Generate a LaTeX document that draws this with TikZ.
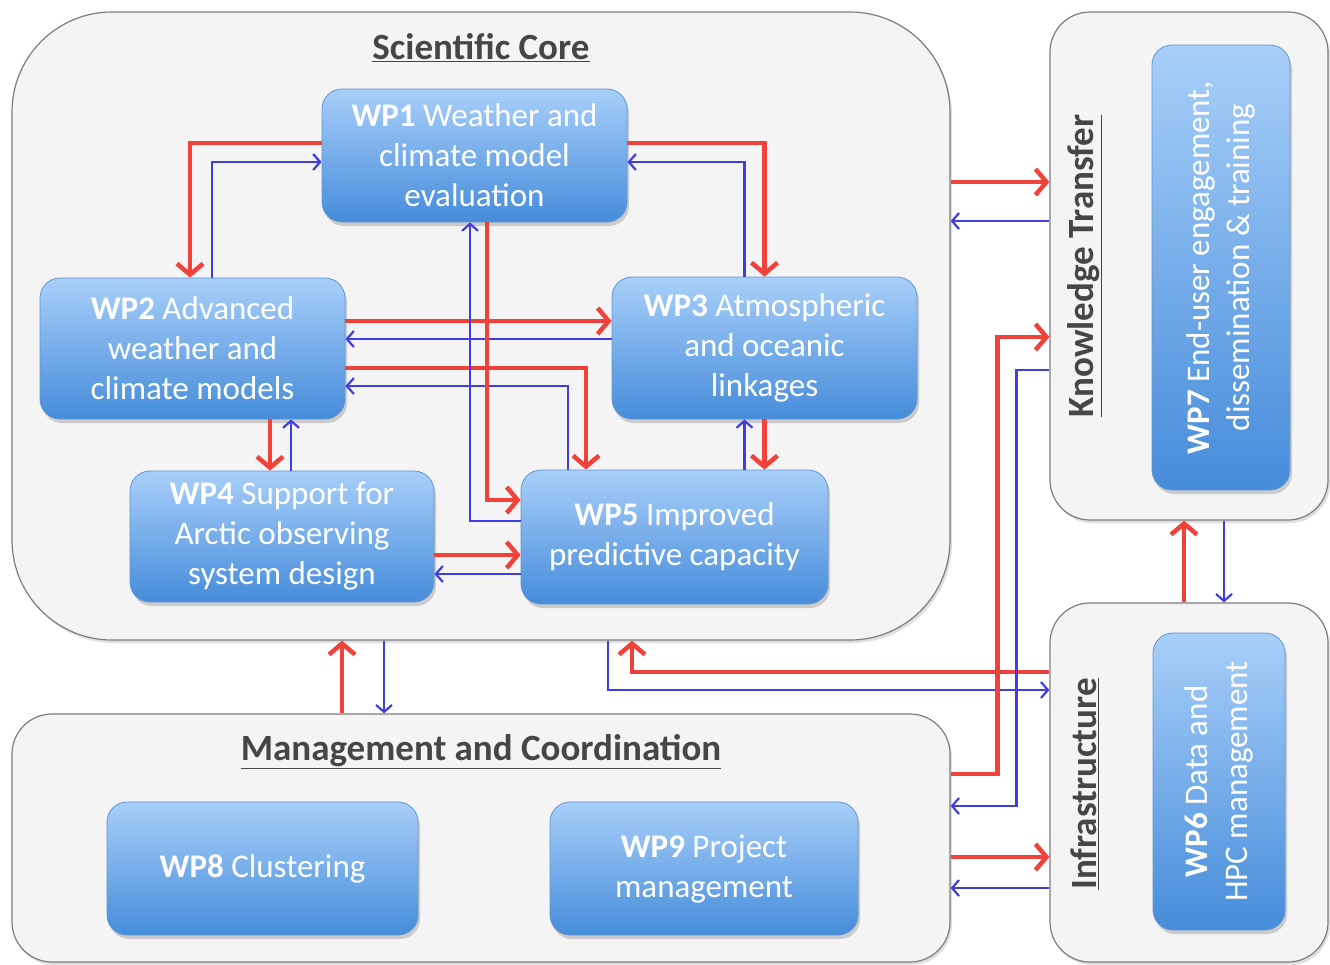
\documentclass[tikz,border=0pt]{standalone}
\usepackage{fontspec}
\setmainfont{Carlito}
\usetikzlibrary{arrows.meta,shadows}

\definecolor{wpred}{RGB}{240,66,58}
\definecolor{wpblue}{RGB}{62,62,228}
\definecolor{boxtop}{RGB}{168,207,249}
\definecolor{boxbot}{RGB}{70,140,218}
\definecolor{boxedge}{RGB}{96,150,210}
\definecolor{panelfill}{RGB}{244,244,244}
\definecolor{paneledge}{RGB}{125,125,125}
\definecolor{titlegray}{RGB}{70,70,70}

\tikzset{
  panelbox/.style={draw=paneledge, line width=1.2pt, fill=panelfill, rounded corners=40pt,
    drop shadow={opacity=.25, shadow xshift=2pt, shadow yshift=-3pt}},
  wpbox/.style={draw=boxedge, line width=.8pt, rounded corners=20pt, top color=boxtop, bottom color=boxbot,
    text=white, align=center, inner sep=0pt, font=\fontsize{33}{40}\selectfont,
    drop shadow={opacity=.35, shadow xshift=2pt, shadow yshift=-4pt}},
  paneltitle/.style={text=titlegray, font=\fontsize{37}{42}\selectfont\bfseries},
  redarr/.style={draw=wpred, line width=4.5pt, -{Straight Barb[length=11pt,width=26pt,line width=4.5pt]}},
  bluearr/.style={draw=wpblue, line width=2.2pt, -{Straight Barb[length=7pt,width=16pt,line width=2.2pt]}}
}

\begin{document}
\begin{tikzpicture}[x=1pt,y=-1pt]
\useasboundingbox (0,0) rectangle (1330,964);

\node[panelbox, rounded corners=100pt, minimum width=938pt, minimum height=628pt] (core) at (481,326) {};
\node[panelbox, minimum width=278pt, minimum height=508pt] (kt) at (1189,266) {};
\node[panelbox, minimum width=278pt, minimum height=359pt] (infra) at (1189,782.5) {};
\node[panelbox, minimum width=938pt, minimum height=248pt] (mgmt) at (481,838) {};

\node[paneltitle] (coretitle) at (481,48) {\underline{Scientific Core}};
\node[paneltitle] (mgmttitle) at (481,752) {\underline{Management and Coordination}};
\node[paneltitle, rotate=90] (kttitle) at (1085,266) {\underline{Knowledge Transfer}};
\node[paneltitle, rotate=90] (infratitle) at (1085,784) {\underline{Infrastructure}};

\node[wpbox, minimum width=305pt, minimum height=133pt] (wp1) at (474.5,155.5) {\textbf{WP1} Weather and\\climate model\\evaluation};
\node[wpbox, minimum width=305pt, minimum height=141pt] (wp2) at (192.5,348.5) {\textbf{WP2} Advanced\\weather and\\climate models};
\node[wpbox, minimum width=305pt, minimum height=142pt] (wp3) at (764.5,348) {\textbf{WP3} Atmospheric\\and oceanic\\linkages};
\node[wpbox, minimum width=304pt, minimum height=131pt] (wp4) at (282,536.5) {\textbf{WP4} Support for\\Arctic observing\\system design};
\node[wpbox, minimum width=307pt, minimum height=134pt] (wp5) at (674.5,537) {\textbf{WP5} Improved\\predictive capacity};
\node[wpbox, rotate=90, minimum width=445pt, minimum height=138pt] (wp7) at (1221,267.5) {\textbf{WP7} End-user engagement,\\dissemination \& training};
\node[wpbox, rotate=90, minimum width=297pt, minimum height=132pt] (wp6) at (1219,781.5) {\textbf{WP6} Data and\\HPC management};
\node[wpbox, minimum width=311pt, minimum height=133pt] (wp8) at (262.5,868.5) {\textbf{WP8} Clustering};
\node[wpbox, minimum width=308pt, minimum height=133pt] (wp9) at (704,868.5) {\textbf{WP9} Project\\management};

\draw[redarr] ([yshift=12.5pt]wp1.west) -| ([xshift=-2.5pt]wp2.north);
\draw[bluearr] ([xshift=19.5pt]wp2.north) |- ([yshift=-6.5pt]wp1.west);
\draw[redarr] ([yshift=12.5pt]wp1.east) -| (wp3.north);
\draw[bluearr] ([xshift=-20pt]wp3.north) |- ([yshift=-6.5pt]wp1.east);
\draw[redarr] ([yshift=27.5pt]wp2.east) coordinate (a) -- (a -| wp3.west);
\draw[bluearr] ([yshift=9pt]wp3.west) coordinate (a) -- (a -| wp2.east);
\draw[redarr] ([yshift=-19.5pt]wp2.east) -| ([xshift=-88.5pt]wp5.north);
\draw[bluearr] ([xshift=-106.5pt]wp5.north) |- ([yshift=-37.5pt]wp2.east);
\draw[redarr] ([xshift=12.5pt]wp1.south) |- ([yshift=37pt]wp5.west);
\draw[bluearr] ([yshift=16pt]wp5.west) -| ([xshift=-4.5pt]wp1.south);
\draw[redarr] ([xshift=77.5pt]wp2.south) coordinate (a) -- (a |- wp4.north);
\draw[bluearr] ([xshift=9pt]wp4.north) coordinate (a) -- (a |- wp2.south);
\draw[redarr] ([yshift=-18.5pt]wp4.east) coordinate (a) -- (a -| wp5.west);
\draw[bluearr] ([yshift=-37pt]wp5.west) coordinate (a) -- (a -| wp4.east);
\draw[redarr] (wp3.south) -- (wp3.south |- wp5.north);
\draw[bluearr] ([xshift=-20pt]wp3.south) coordinate (a) (a |- wp5.north) -- (a);

\draw[redarr] ([yshift=144pt]core.east) coordinate (a) -- (a -| kt.west);
\draw[bluearr] ([yshift=45pt]kt.west) coordinate (a) -- (a -| core.east);
\draw[redarr] ([xshift=-139pt]mgmt.north) coordinate (a) -- (a |- core.south);
\draw[bluearr] ([xshift=-97pt]core.south) coordinate (a) -- (a |- mgmt.north);
\draw[redarr] ([yshift=110.5pt]infra.west) -| ([xshift=151pt]core.south);
\draw[bluearr] ([xshift=127pt]core.south) |- ([yshift=92.5pt]infra.west);
\draw[redarr] ([yshift=64pt]mgmt.east) -- ++(47,0) |- ([yshift=-71pt]kt.west);
\draw[bluearr] ([yshift=-104pt]kt.west) -- ++(-33,0) |- ([yshift=32pt]mgmt.east);
\draw[redarr] ([yshift=-19pt]mgmt.east) coordinate (a) -- (a -| infra.west);
\draw[bluearr] ([yshift=-105.5pt]infra.west) coordinate (a) -- (a -| mgmt.east);
\draw[redarr] ([xshift=-5pt]infra.north) coordinate (a) -- (a |- kt.south);
\draw[bluearr] ([xshift=35pt]kt.south) coordinate (a) -- (a |- infra.north);
\end{tikzpicture}
\end{document}
